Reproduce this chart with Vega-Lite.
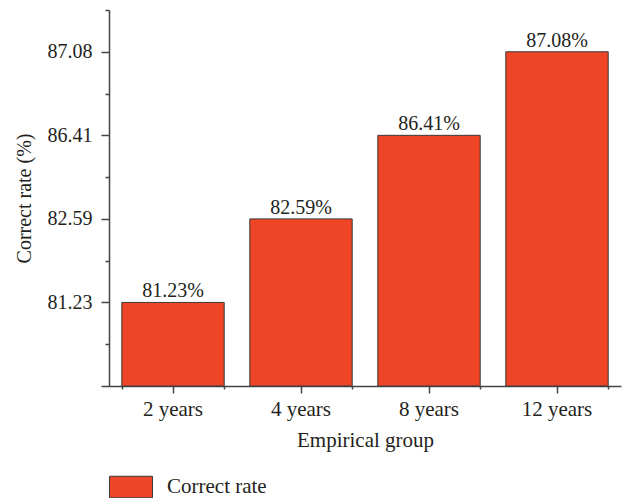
{
  "$schema": "https://vega.github.io/schema/vega-lite/v6.json",
  "width": 512,
  "height": 376,
  "autosize": {"type": "none"},
  "padding": {"left": 109, "top": 10, "right": 1, "bottom": 112},
  "background": "white",
  "config": {
    "view": {"stroke": null},
    "font": "Liberation Serif",
    "axis": {
      "labelFont": "Liberation Serif",
      "titleFont": "Liberation Serif",
      "labelFontSize": 20,
      "titleFontSize": 21,
      "titleFontWeight": "normal",
      "labelColor": "#231f20",
      "titleColor": "#231f20",
      "domainColor": "#444444",
      "tickColor": "#444444",
      "domainWidth": 1.5,
      "tickWidth": 1.5,
      "grid": false
    },
    "legend": {"labelFont": "Liberation Serif", "labelFontSize": 20, "labelColor": "#231f20"}
  },
  "data": {
    "values": [
      {"group": "2 years", "rate": 81.23, "label": "81.23%", "series": "Correct rate"},
      {"group": "4 years", "rate": 82.59, "label": "82.59%", "series": "Correct rate"},
      {"group": "8 years", "rate": 86.41, "label": "86.41%", "series": "Correct rate"},
      {"group": "12 years", "rate": 87.08, "label": "87.08%", "series": "Correct rate"}
    ]
  },
  "encoding": {
    "y": {
      "field": "rate",
      "type": "quantitative",
      "scale": {
        "domain": [79.87, 81.23, 82.59, 86.41, 87.08, 87.415],
        "range": [376, 292.44, 208.89, 125.33, 41.78, 0],
        "nice": false,
        "zero": false
      },
      "axis": {
        "title": "Correct rate (%)",
        "titleFontSize": 20,
        "values": [79.87, 80.55, 81.23, 81.91, 82.59, 84.5, 86.41, 86.745, 87.08, 87.415],
        "labelExpr": "indexof([81.23, 82.59, 86.41, 87.08], datum.value) >= 0 ? format(datum.value, '.2f') : ''",
        "tickSize": {"condition": {"test": "indexof([79.87, 81.23, 82.59, 86.41, 87.08], datum.value) >= 0", "value": 8}, "value": 4},
        "labelPadding": 9,
        "labelOverlap": false,
        "titlePadding": 13
      }
    }
  },
  "layer": [
    {
      "mark": {"type": "bar", "stroke": "#3a3a3a", "strokeWidth": 1},
      "encoding": {
        "x": {
          "field": "group",
          "type": "nominal",
          "sort": null,
          "scale": {"paddingInner": 0.2, "paddingOuter": 0.1},
          "axis": {
            "title": "Empirical group",
            "labelAngle": 0,
            "labelFontSize": 21,
            "tickSize": 7,
            "labelPadding": 5,
            "titlePadding": 10
          }
        },
        "y2": {"datum": 79.87},
        "color": {
          "field": "series",
          "type": "nominal",
          "scale": {"range": ["#ee4527"]},
          "legend": {
            "title": null,
            "orient": "none",
            "legendX": 0,
            "legendY": 455,
            "symbolType": "M-1,-0.5H1V0.5H-1Z",
            "symbolSize": 1849,
            "symbolStrokeColor": "#3a3a3a",
            "symbolStrokeWidth": 1,
            "symbolOpacity": 1,
            "labelOffset": 14,
            "labelFontSize": 21
          }
        }
      }
    },
    {
      "mark": {"type": "text", "baseline": "alphabetic", "dy": -5, "fontSize": 20, "color": "#231f20", "font": "Liberation Serif"},
      "encoding": {
        "x": {
          "field": "group",
          "type": "nominal",
          "sort": null,
          "scale": {"paddingInner": 0.2, "paddingOuter": 0.1},
          "axis": {
            "orient": "bottom",
            "title": null,
            "labels": false,
            "domain": false,
            "tickBand": "extent",
            "tickSize": 3
          }
        },
        "text": {"field": "label", "type": "nominal"}
      }
    }
  ],
  "resolve": {"axis": {"x": "independent"}}
}
